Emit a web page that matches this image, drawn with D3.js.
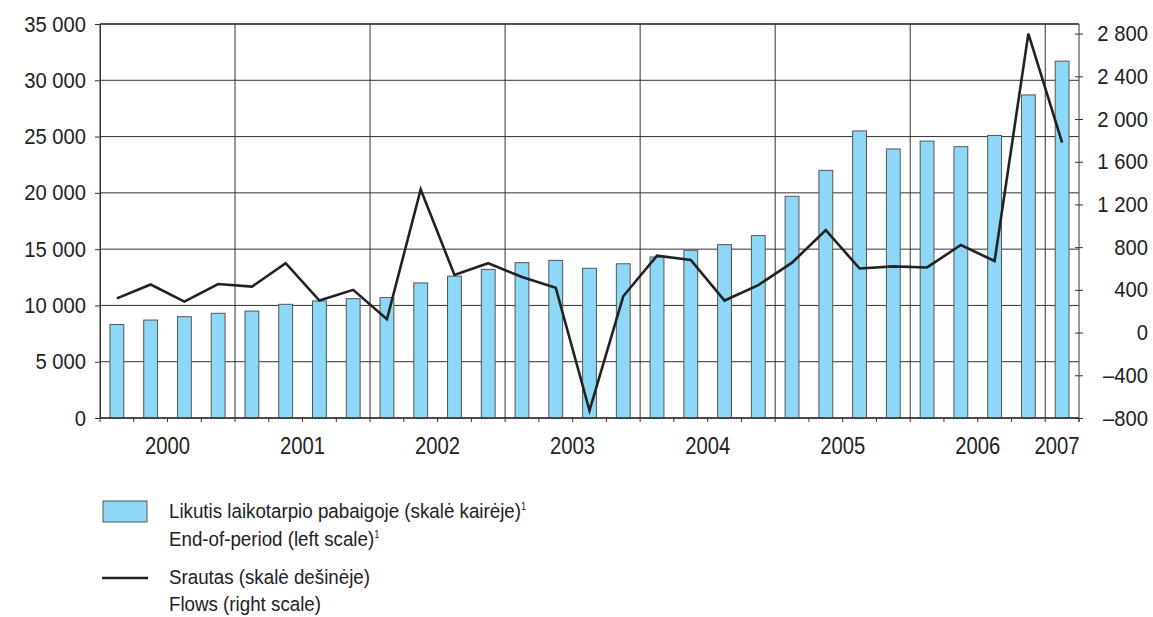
<!DOCTYPE html>
<html>
<head>
<meta charset="utf-8">
<script src="https://cdn.jsdelivr.net/npm/d3@7"></script>
<style>
  body { margin: 0; background: #fff; }
  svg text { font-family: "Liberation Sans", Arial, sans-serif; fill: #222; }
</style>
</head>
<body>
<svg width="1153" height="617"></svg>
<script>
// quarters 2000Q1 .. 2007Q1
var years = ["2000", "2001", "2002", "2003", "2004", "2005", "2006", "2007"];
var quarters = [];
years.forEach(function(y) { [1, 2, 3, 4].forEach(function(q) { quarters.push(y + "Q" + q); }); });
quarters = quarters.slice(0, 29);

// end-of-period stock (left scale)
var stock = [8300, 8700, 9000, 9300, 9500, 10100, 10400, 10600,
             10700, 12000, 12600, 13200, 13800, 14000, 13300, 13700,
             14300, 14900, 15400, 16200, 19700, 22000, 25500, 23900,
             24600, 24100, 25100, 28700, 31700];
// flows (right scale)
var flows = [320, 450, 290, 455, 430, 650, 300, 400,
             125, 1340, 540, 650, 520, 420, -730, 340,
             720, 680, 300, 445, 655, 960, 600, 620,
             610, 820, 670, 2800, 1780];

var leftTicks = [0, 5000, 10000, 15000, 20000, 25000, 30000, 35000];
var rightTicks = [-800, -400, 0, 400, 800, 1200, 1600, 2000, 2400, 2800];

var svg = d3.select("svg");
var m = { left: 100, right: 1079, top: 24, bottom: 418 };

var loc = d3.formatLocale({ decimal: ",", thousands: "\u00a0", grouping: [3], currency: ["", ""], minus: "\u2013" });
var fmt = loc.format(",d");

var x = d3.scaleBand().domain(quarters).range([m.left, m.right]);
var yL = d3.scaleLinear().domain([0, 35000]).range([m.bottom, m.top]);
var yR = d3.scaleLinear().domain([-800, 2890]).range([m.bottom, m.top]);

// squeeze text horizontally to mimic the narrow face
function narrow(sel, k) {
  sel.each(function() {
    var t = d3.select(this);
    var tx = +t.attr("x") || 0;
    t.attr("transform", "translate(" + tx + ",0) scale(" + k + ",1) translate(" + (-tx) + ",0)");
  });
}

// horizontal grid
svg.append("g").selectAll("line")
  .data(leftTicks).enter().append("line")
  .attr("x1", m.left).attr("x2", m.right)
  .attr("y1", function(d) { return yL(d); }).attr("y2", function(d) { return yL(d); })
  .attr("stroke", function(d) { return d == 35000 ? "#555" : "#333"; })
  .attr("stroke-width", function(d) { return d == 35000 ? 2 : 1; });

// vertical year lines
var yearStarts = quarters.filter(function(q) { return /Q1$/.test(q); });
svg.append("g").selectAll("line")
  .data(yearStarts).enter().append("line")
  .attr("x1", function(d) { return x(d); }).attr("x2", function(d) { return x(d); })
  .attr("y1", m.top).attr("y2", m.bottom)
  .attr("stroke", "#333").attr("stroke-width", 1);

// bars
var bw = x.bandwidth() * 0.41;
svg.append("g").selectAll("rect")
  .data(stock).enter().append("rect")
  .attr("x", function(d, i) { return x(quarters[i]) + x.bandwidth() / 2 - bw / 2; })
  .attr("y", function(d) { return yL(d); })
  .attr("width", bw)
  .attr("height", function(d) { return yL(0) - yL(d); })
  .attr("fill", "#8dd8f6")
  .attr("stroke", "#555").attr("stroke-width", 1);

// left axis
var axL = svg.append("g").attr("transform", "translate(" + m.left + ",0)")
  .call(d3.axisLeft(yL).tickValues(leftTicks).tickFormat(fmt).tickSize(5).tickPadding(9));
axL.select(".domain").attr("stroke", "#333");
axL.selectAll("line").attr("stroke", "#333");
axL.selectAll("text").style("font-size", "22px").call(narrow, 0.92);

// right axis
var axR = svg.append("g").attr("transform", "translate(" + m.right + ",0)")
  .call(d3.axisRight(yR).tickValues(rightTicks).tickFormat(fmt).tickSize(0));
axR.select(".domain").attr("stroke", "#333").attr("d", "M0," + m.top + "V" + (m.bottom + 4));
axR.selectAll(".tick line").attr("x1", -4).attr("x2", 4).attr("stroke", "#333");
axR.selectAll("text").style("font-size", "22px").attr("text-anchor", "end").attr("x", 69).call(narrow, 0.92);

// bottom axis: quarter ticks
var bounds = quarters.map(function(q) { return x(q); }).concat([m.right]);
svg.append("g").selectAll("line")
  .data(bounds).enter().append("line")
  .attr("x1", function(d) { return d; }).attr("x2", function(d) { return d; })
  .attr("y1", m.bottom).attr("y2", m.bottom + 4)
  .attr("stroke", "#333");
svg.append("line").attr("x1", m.left).attr("x2", m.right)
  .attr("y1", m.bottom).attr("y2", m.bottom).attr("stroke", "#333").attr("stroke-width", 1.5);

// year labels
svg.append("g").selectAll("text")
  .data(years).enter().append("text")
  .attr("x", function(y) {
    var qs = quarters.filter(function(q) { return q.slice(0, 4) == y; });
    var c = (x(qs[0]) + x(qs[qs.length - 1]) + x.bandwidth()) / 2;
    return Math.min(c, m.right - 22);
  })
  .attr("y", 454)
  .attr("text-anchor", "middle")
  .style("font-size", "23px")
  .text(function(d) { return d; })
  .call(narrow, 0.88);

// flows line
svg.append("path")
  .datum(flows)
  .attr("fill", "none")
  .attr("stroke", "#222")
  .attr("stroke-width", 2.6)
  .attr("stroke-linejoin", "miter")
  .attr("d", d3.line()
    .x(function(d, i) { return x(quarters[i]) + x.bandwidth() / 2; })
    .y(function(d) { return yR(d); }));

// legend
var lg = svg.append("g").style("font-size", "20.5px");
lg.append("rect").attr("x", 103).attr("y", 501).attr("width", 44).attr("height", 21)
  .attr("fill", "#8dd8f6").attr("stroke", "#555");
var t1 = lg.append("text").attr("x", 169).attr("y", 518);
t1.append("tspan").text("Likutis laikotarpio pabaigoje (skalė kairėje)");
t1.append("tspan").attr("dy", -8).style("font-size", "10px").text("1");
var t2 = lg.append("text").attr("x", 169).attr("y", 546);
t2.append("tspan").text("End-of-period (left scale)");
t2.append("tspan").attr("dy", -8).style("font-size", "10px").text("1");
lg.append("line").attr("x1", 102).attr("x2", 148).attr("y1", 578).attr("y2", 578)
  .attr("stroke", "#222").attr("stroke-width", 2.6);
lg.append("text").attr("x", 169).attr("y", 584).text("Srautas (skalė dešinėje)");
lg.append("text").attr("x", 169).attr("y", 611).text("Flows (right scale)");
lg.selectAll("text").call(narrow, 0.915);
</script>
</body>
</html>
